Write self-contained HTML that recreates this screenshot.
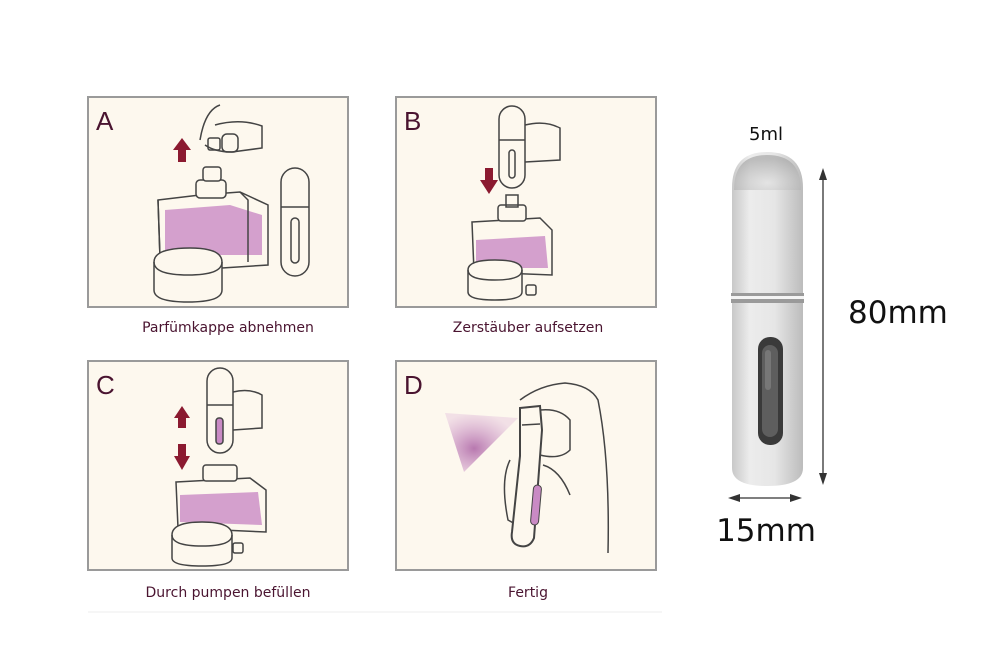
<!DOCTYPE html>
<html><head><meta charset="utf-8"><style>
html,body{margin:0;padding:0;background:#fff;}
svg{display:block;}
</style></head><body>
<svg width="1000" height="667" viewBox="0 0 1000 667" xmlns="http://www.w3.org/2000/svg">
<defs>
<linearGradient id="sil" x1="0" x2="1">
<stop offset="0" stop-color="#c8c8c8"/><stop offset="0.25" stop-color="#ececec"/><stop offset="0.6" stop-color="#e6e6e6"/><stop offset="1" stop-color="#bcbcbc"/>
</linearGradient>
<radialGradient id="cap" cx="0.5" cy="0.8" r="0.7">
<stop offset="0" stop-color="#e2e2e2"/><stop offset="1" stop-color="#a8a8a8"/>
</radialGradient>
<radialGradient id="spray" cx="0.4" cy="0.6" r="0.6">
<stop offset="0" stop-color="#b06aa8" stop-opacity="0.9"/><stop offset="1" stop-color="#d8a8d4" stop-opacity="0.3"/>
</radialGradient>
</defs>
<g fill="#fdf8ee" stroke="#9a9a9a" stroke-width="2">
<rect x="88" y="97" width="260" height="210"/>
<rect x="396" y="97" width="260" height="210"/>
<rect x="88" y="361" width="260" height="209"/>
<rect x="396" y="361" width="260" height="209"/>
</g>
<line x1="88" y1="612" x2="662" y2="612" stroke="#eeeeee" stroke-width="1"/>
<g font-family="Liberation Sans, sans-serif" font-size="26" fill="#4a1430">
<text x="96" y="130">A</text><text x="404" y="130">B</text>
<text x="96" y="394">C</text><text x="404" y="394">D</text>
</g>
<g font-family="DejaVu Sans, sans-serif" font-size="14" fill="#4a1430" text-anchor="middle">
<text x="228" y="332">Parfümkappe abnehmen</text>
<text x="528" y="332">Zerstäuber aufsetzen</text>
<text x="228" y="597">Durch pumpen befüllen</text>
<text x="528" y="597">Fertig</text>
</g>
<!-- Panel A -->
<g fill="none" stroke="#444" stroke-width="1.5">
<path d="M158 200 L200 195 L240 192 L268 205 L268 265 L222 268 L160 258 Z" />
<path d="M165 210 L230 205 L262 215 L262 255 L165 255Z" fill="#c98ac4" stroke="none" opacity="0.8"/>
<path d="M158 200 L160 258 M240 192 L248 200 L248 262"/>
<rect x="196" y="180" width="30" height="18" rx="4" fill="#fdf8ee"/>
<rect x="203" y="167" width="18" height="14" rx="3" fill="#fdf8ee"/>
<path d="M154 262 Q154 248 190 248 Q222 248 222 262 L222 290 Q222 302 188 302 Q154 302 154 290Z" fill="#fdf8ee"/>
<path d="M154 262 Q154 275 188 275 Q222 275 222 262"/>
<rect x="281" y="168" width="28" height="108" rx="14" fill="#fdf8ee"/>
<path d="M281 207 L309 207"/>
<rect x="291" y="218" width="8" height="45" rx="4"/>
<path d="M200 140 Q205 110 220 105 M215 125 Q240 118 262 126 L262 148 L232 152 Q215 152 205 145"/>
<rect x="208" y="138" width="12" height="12" rx="2"/>
<rect x="222" y="134" width="16" height="18" rx="5"/>
</g>
<path d="M178 162 L178 150 L173 150 L182 138 L191 150 L186 150 L186 162Z" fill="#8b1a30"/>
<!-- Panel B -->
<g fill="none" stroke="#444" stroke-width="1.5">
<path d="M472 222 L540 218 L552 230 L552 275 L474 272 Z"/>
<path d="M476 240 L545 236 L548 268 L476 268Z" fill="#c98ac4" stroke="none" opacity="0.8"/>
<rect x="498" y="205" width="28" height="16" rx="3" fill="#fdf8ee"/>
<rect x="506" y="195" width="12" height="12"/>
<path d="M468 270 Q468 260 495 260 Q522 260 522 270 L522 292 Q522 300 495 300 Q468 300 468 292Z" fill="#fdf8ee"/>
<path d="M468 270 Q468 280 495 280 Q522 280 522 270"/>
<rect x="526" y="285" width="10" height="10" rx="2"/>
<rect x="499" y="106" width="26" height="82" rx="13" fill="#fdf8ee"/>
<path d="M499 140 L525 140"/><rect x="509" y="150" width="6" height="28" rx="3"/>
<path d="M525 125 Q545 120 560 128 L560 160 L525 162"/>
</g>
<path d="M485 168 L485 180 L480 180 L489 194 L498 180 L493 180 L493 168Z" fill="#8b1a30"/>
<!-- Panel C -->
<g fill="none" stroke="#444" stroke-width="1.5">
<path d="M176 482 L250 478 L266 490 L266 532 L178 528 Z"/>
<path d="M180 495 L258 492 L262 525 L180 522Z" fill="#c98ac4" stroke="none" opacity="0.8"/>
<rect x="203" y="465" width="34" height="16" rx="3" fill="#fdf8ee"/>
<path d="M172 535 Q172 522 202 522 Q232 522 232 535 L232 558 Q232 566 202 566 Q172 566 172 558Z" fill="#fdf8ee"/>
<path d="M172 535 Q172 546 202 546 Q232 546 232 535"/>
<rect x="233" y="543" width="10" height="10" rx="2"/>
<rect x="207" y="368" width="26" height="85" rx="13" fill="#fdf8ee"/>
<path d="M207 405 L233 405"/><rect x="216" y="418" width="7" height="26" rx="3" fill="#c98ac4"/>
<path d="M233 392 Q250 388 262 395 L262 428 L233 430"/>
</g>
<path d="M178 428 L178 418 L174 418 L182 406 L190 418 L186 418 L186 428Z" fill="#8b1a30"/>
<path d="M178 444 L178 456 L174 456 L182 470 L190 456 L186 456 L186 444Z" fill="#8b1a30"/>
<!-- Panel D -->
<polygon points="445,413 518,418 464,472" fill="url(#spray)"/>
<g fill="none" stroke="#444" stroke-width="1.5">
<path d="M520 400 Q540 385 565 383 Q590 385 598 400 Q610 460 608 553"/>
<path d="M540 410 Q560 408 570 420 L570 450 Q560 460 540 455"/>
<path d="M510 460 Q500 480 508 520 L526 530"/>
<path d="M543 465 Q560 470 570 495"/>
<path d="M520 408 L540 406 L542 430 L534 538 Q530 548 520 546 Q510 544 512 532 L520 456Z" fill="#fdf8ee" stroke-width="2"/>
<path d="M522 425 L540 424"/>
<rect x="532" y="485" width="8" height="40" rx="4" fill="#c98ac4" stroke-width="1" transform="rotate(5 536 505)"/>
</g>
<!-- Bottle -->
<path d="M732 188 Q732 152 767 152 Q803 152 803 188 L803 293 L732 293Z" fill="url(#sil)"/>
<path d="M734 190 Q734 155 767 155 Q801 155 801 190Z" fill="url(#cap)" opacity="0.7"/>
<rect x="731" y="293" width="73" height="10" fill="#9a9a9a"/>
<rect x="731" y="296" width="73" height="3" fill="#f4f4f4"/>
<path d="M732 303 L803 303 L803 468 Q803 486 767 486 Q732 486 732 468Z" fill="url(#sil)"/>
<rect x="758" y="337" width="25" height="108" rx="12" fill="#3a3a3a"/>
<rect x="762" y="345" width="16" height="92" rx="8" fill="#5e5e5e"/>
<rect x="765" y="350" width="6" height="40" rx="3" fill="#777"/>
<g stroke="#333" stroke-width="1.3" fill="#333">
<line x1="823" y1="172" x2="823" y2="481"/>
<polygon points="823,168 819,180 827,180" stroke="none"/>
<polygon points="823,485 819,473 827,473" stroke="none"/>
<line x1="732" y1="498" x2="798" y2="498"/>
<polygon points="728,498 740,494 740,502" stroke="none"/>
<polygon points="802,498 790,494 790,502" stroke="none"/>
</g>
<g font-family="DejaVu Sans, sans-serif" fill="#111">
<text x="766" y="140" font-size="18" text-anchor="middle">5ml</text>
<text x="848" y="323" font-size="31">80mm</text>
<text x="766" y="541" font-size="31" text-anchor="middle">15mm</text>
</g>
</svg>
</body></html>
